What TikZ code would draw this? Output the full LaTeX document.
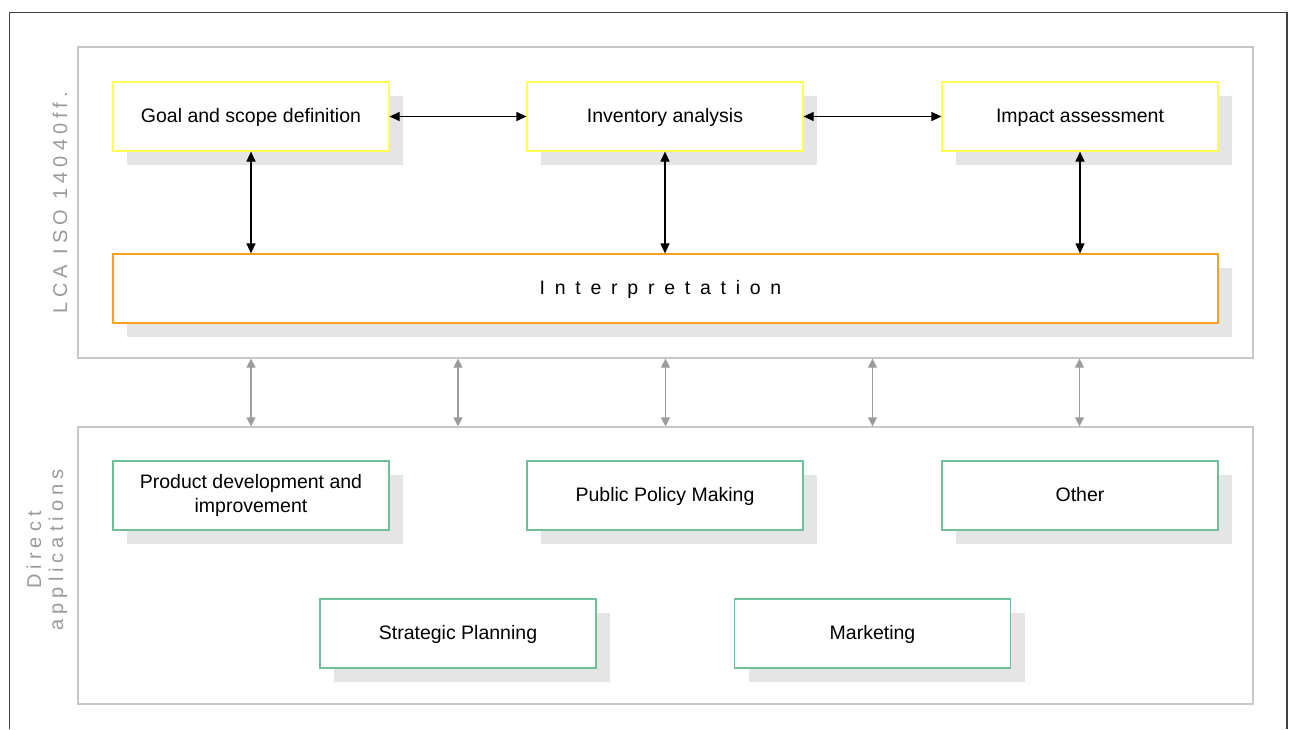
\documentclass[tikz,border=0pt]{standalone}
\usepackage{fontspec}
\setmainfont{Liberation Sans}
\usetikzlibrary{arrows.meta,shadows}

\definecolor{phaseyellow}{HTML}{FFFF55}
\definecolor{interorange}{HTML}{F7A11F}
\definecolor{appgreen}{HTML}{6FBF9B}
\definecolor{shadowgray}{HTML}{E5E5E5}
\definecolor{groupgray}{HTML}{C8C8C8}
\definecolor{labelgray}{HTML}{9A9A9A}
\definecolor{linkgray}{HTML}{9C9C9C}
\definecolor{framegray}{HTML}{404040}

\newcommand\boxfont{\fontsize{19.5}{23.5}\selectfont}
\newcommand\sidefont{\fontsize{20}{22}\selectfont\addfontfeatures{LetterSpace=25}}

\tikzset{
  shadowed/.style={drop shadow={shadow xshift=14pt,shadow yshift=-14pt,fill=shadowgray,opacity=1}},
  basebox/.style={fill=white,line width=1.2pt,minimum width=276pt,minimum height=69pt,
    inner sep=0pt,align=center,font=\boxfont,shadowed},
  oneline/.style={text height=15pt,text depth=3pt},
  phasebox/.style={basebox,oneline,draw=phaseyellow},
  appbox/.style={basebox,draw=appgreen},
  groupbox/.style={draw=groupgray,line width=1.2pt,minimum width=1175pt,inner sep=0pt},
  sidelabel/.style={rotate=90,text=labelgray,font=\sidefont,align=center},
  link/.style={line width=1.2pt,{Triangle[length=10pt,width=9pt]}-{Triangle[length=10pt,width=9pt]}},
  graylink/.style={draw=linkgray,line width=1.2pt,{Triangle[length=9pt,width=9pt]}-{Triangle[length=9pt,width=9pt]}}
}

\begin{document}
\begin{tikzpicture}[x=1pt,y=-1pt]
  \useasboundingbox (0,0) rectangle (1291,729);
  % outer frame, open at the bottom
  \draw[framegray,line width=1.4pt] (9.5,729) -- (9.5,12.5) -- (1287,12.5) -- (1287,729);

  % the two groups
  \node[groupbox,minimum height=311pt] (lcagroup) at (665.5,202.5) {};
  \node[groupbox,minimum height=277pt] (appgroup) at (665.5,565.5) {};
  \node[sidelabel] (lcalabel) at (60,203) {LCA ISO 14040ff.};
  \node[sidelabel] (applabel) at (47,550) {Direct\\applications};

  % LCA phases
  \node[phasebox] (goal) at (251,116.5) {Goal and scope definition};
  \node[phasebox] (inventory) at (665,116.5) {Inventory analysis};
  \node[phasebox] (impact) at (1080,116.5) {Impact assessment};
  \node[basebox,oneline,draw=interorange,minimum width=1105pt] (interp) at (665.5,288.5)
    {\hspace{-10pt}\addfontfeatures{LetterSpace=50}Interpretation};

  \draw[link] (goal) -- (inventory);
  \draw[link] (inventory) -- (impact);
  \draw[link] (goal.south) -- (goal.south |- interp.north);
  \draw[link] (inventory.south) -- (inventory.south |- interp.north);
  \draw[link] (impact.south) -- (impact.south |- interp.north);

  % links between the groups
  \foreach \dx in {-414.5,-207.5,0,207,414}
    \draw[graylink] ([xshift=\dx pt]lcagroup.south) -- ([xshift=\dx pt]appgroup.north);

  % applications
  \node[appbox] (product) at (251,495.5) {Product development and\\improvement};
  \node[appbox,oneline] (policy) at (665,495.5) {Public Policy Making};
  \node[appbox,oneline] (other) at (1080,495.5) {Other};
  \node[appbox,oneline] (strategic) at (458,633.5) {Strategic Planning};
  \node[appbox,oneline] (marketing) at (872.5,633.5) {Marketing};
\end{tikzpicture}
\end{document}
